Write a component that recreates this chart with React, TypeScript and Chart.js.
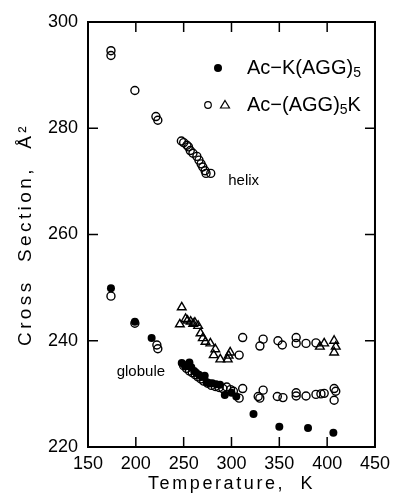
import React, { useEffect, useRef } from "react";
import { Chart, registerables } from "chart.js";

Chart.register(...registerables);

// Ac-K(AGG)5 (filled circles)
const kTemps = [174, 199, 216.5, 248, 251, 253, 256, 258, 261, 263, 266, 269, 272, 274, 277, 280, 284, 288, 293, 300, 305, 323, 350, 380, 406.5];
const kValues = [249.9, 243.6, 240.5, 235.8, 235.4, 235.2, 235.9, 235, 234.3, 234, 233.6, 233.2, 233.4, 232.2, 232, 232, 231.8, 231.7, 229.8, 230.2, 229.5, 226.2, 223.8, 223.6, 222.7];

// Ac-(AGG)5K (open circles)
const openTemps = [
  174, 174, 199, 221, 223, 247.6, 250, 253.4, 255, 256.9, 259.7, 263.8, 266, 268.2, 270, 272.4, 273.4, 278.3,
  174, 199, 222, 223,
  250, 253, 256, 259, 262, 265, 268, 271, 275, 279, 283, 287, 291, 295, 299, 302,
  311.7, 308, 311.7, 308, 329.7, 333.1, 348.6, 353.1, 367.6, 367.6, 377.9, 388.3,
  327.9, 329.6, 333.1, 347.9, 353.8, 367.6, 367.6, 377.9, 388.3, 393.5, 396.9, 407.3, 409, 407.3,
];
const openValues = [
  294.6, 293.7, 287.1, 282.2, 281.5, 277.6, 277.3, 276.8, 276.5, 275.8, 275.3, 274.7, 274, 273.3, 272.7, 272, 271.5, 271.5,
  248.4, 243.3, 239.2, 238.5,
  235.3, 234.8, 234.3, 234, 233.6, 233.2, 232.8, 232.4, 232, 231.6, 231.4, 231.2, 231, 231.3, 230.8, 230.5,
  231, 229.2, 240.6, 237.3, 239, 240.3, 240, 239.2, 240.6, 239.5, 239.5, 239.6,
  229.5, 229.2, 230.7, 229.5, 229.3, 230.2, 229.6, 229.6, 229.9, 230, 230.1, 231, 230.5, 228.8,
];

// Ac-(AGG)5K (open triangles)
const triTemps = [248, 246, 252, 254, 257.3, 260, 261.7, 265.1, 267.6, 270, 272.8, 277.9, 281.4, 283.1, 288.3, 296.1, 297, 298.6, 392.4, 396.9, 407.3, 409, 407.3];
const triValues = [246.3, 243.1, 244.1, 243.8, 243.6, 243.2, 243.4, 242.8, 241.4, 240.5, 239.8, 239.5, 237.3, 238.4, 236.5, 236.5, 237.2, 237.8, 238.9, 239.5, 240, 238.9, 237.8];

const xTicks = [150, 200, 250, 300, 350, 400, 450];
const yTicks = [220, 240, 260, 280, 300];
const xTitle = "Temperature,  K";
const yTitle = "Cross  Section,  Å²";
const legend1 = ["Ac\u2212K(AGG)", "5", ""];
const legend2 = ["Ac\u2212(AGG)", "5", "K"];
const annotations = [
  { text: "helix", x: 296.6, y: 270.1 },
  { text: "globule", x: 180, y: 234.1 },
];

const FONT = "'Liberation Sans', Arial, sans-serif";

function toPoints(xs: number[], ys: number[]) {
  return xs.map((x, i) => ({ x, y: ys[i] }));
}

const framePlugin = {
  id: "frame",
  afterDraw(chart: any) {
    const { ctx, chartArea: a, scales } = chart;
    const sx = scales.x;
    const sy = scales.y;
    ctx.save();
    ctx.strokeStyle = "#000";
    ctx.fillStyle = "#000";
    ctx.lineWidth = 2;
    ctx.strokeRect(a.left, a.top, a.right - a.left, a.bottom - a.top);
    ctx.lineWidth = 1.5;
    ctx.beginPath();
    for (const v of xTicks) {
      const px = sx.getPixelForValue(v);
      ctx.moveTo(px, a.bottom);
      ctx.lineTo(px, a.bottom - 10);
      ctx.moveTo(px, a.top);
      ctx.lineTo(px, a.top + 10);
    }
    for (const v of yTicks) {
      const py = sy.getPixelForValue(v);
      ctx.moveTo(a.left, py);
      ctx.lineTo(a.left + 10, py);
      ctx.moveTo(a.right, py);
      ctx.lineTo(a.right - 10, py);
    }
    ctx.stroke();

    // axis titles
    ctx.save();
    ctx.font = `18px ${FONT}`;
    ctx.textAlign = "center";
    ctx.textBaseline = "middle";
    (ctx as any).letterSpacing = "2.6px";
    ctx.fillText(xTitle, (a.left + a.right) / 2, 484);
    (ctx as any).letterSpacing = "3.4px";
    ctx.font = `19px ${FONT}`;
    ctx.translate(26, (a.top + a.bottom) / 2);
    ctx.rotate(-Math.PI / 2);
    ctx.fillText(yTitle, 0, 0);
    ctx.restore();

    // annotations
    ctx.font = `15px ${FONT}`;
    ctx.textAlign = "left";
    ctx.textBaseline = "middle";
    for (const an of annotations) {
      ctx.fillText(an.text, sx.getPixelForValue(an.x), sy.getPixelForValue(an.y));
    }

    // legend
    const drawLabel = (parts: string[], x: number, y: number) => {
      ctx.textAlign = "left";
      ctx.textBaseline = "middle";
      ctx.font = `20px ${FONT}`;
      ctx.fillText(parts[0], x, y);
      let w = ctx.measureText(parts[0]).width;
      ctx.font = `14px ${FONT}`;
      ctx.fillText(parts[1], x + w, y + 5);
      w += ctx.measureText(parts[1]).width;
      ctx.font = `20px ${FONT}`;
      ctx.fillText(parts[2], x + w, y);
    };
    ctx.beginPath();
    ctx.arc(218, 68, 4, 0, Math.PI * 2);
    ctx.fill();
    drawLabel(legend1, 247, 68);
    ctx.lineWidth = 1.2;
    ctx.beginPath();
    ctx.arc(208, 105, 3.3, 0, Math.PI * 2);
    ctx.stroke();
    ctx.beginPath();
    ctx.moveTo(225, 100.5);
    ctx.lineTo(229.5, 108);
    ctx.lineTo(220.5, 108);
    ctx.closePath();
    ctx.stroke();
    drawLabel(legend2, 247, 105);
    ctx.restore();
  },
};

export default function App() {
  const ref = useRef<HTMLCanvasElement | null>(null);
  useEffect(() => {
    document.body.style.margin = "0";
    if (!ref.current) return;
    const chart = new Chart(ref.current, {
      type: "scatter",
      data: {
        datasets: [
          {
            label: "Ac-K(AGG)5",
            data: toPoints(kTemps, kValues),
            pointStyle: "circle",
            pointRadius: 4,
            pointBorderWidth: 0,
            backgroundColor: "#000",
            borderColor: "#000",
          },
          {
            label: "Ac-(AGG)5K",
            data: toPoints(openTemps, openValues),
            pointStyle: "circle",
            pointRadius: 4,
            pointBorderWidth: 1.4,
            backgroundColor: "rgba(0,0,0,0)",
            borderColor: "#000",
          },
          {
            label: "Ac-(AGG)5K tri",
            data: toPoints(triTemps, triValues),
            pointStyle: "triangle",
            pointRadius: 5,
            pointBorderWidth: 1.4,
            backgroundColor: "rgba(0,0,0,0)",
            borderColor: "#000",
          },
        ],
      },
      options: {
        animation: false,
        responsive: false,
        maintainAspectRatio: false,
        layout: { padding: { top: 22, right: 18, left: 0, bottom: 0 } },
        plugins: { legend: { display: false }, tooltip: { enabled: false } },
        scales: {
          x: {
            type: "linear",
            min: 150,
            max: 450,
            afterBuildTicks: (s: any) => {
              s.ticks = xTicks.map((v) => ({ value: v }));
            },
            afterFit: (s: any) => {
              s.height = 50;
            },
            grid: { display: false, drawTicks: false },
            border: { display: false },
            ticks: { padding: 6, color: "#000", font: { family: FONT, size: 18 }, maxRotation: 0 },
          },
          y: {
            type: "linear",
            min: 220,
            max: 300,
            afterBuildTicks: (s: any) => {
              s.ticks = yTicks.map((v) => ({ value: v }));
            },
            afterFit: (s: any) => {
              s.width = 88;
            },
            grid: { display: false, drawTicks: false },
            border: { display: false },
            ticks: { padding: 10, color: "#000", font: { family: FONT, size: 18 } },
          },
        },
      },
      plugins: [framePlugin],
    });
    return () => chart.destroy();
  }, []);
  return (
    <div style={{ width: 396, height: 497 }}>
      <canvas ref={ref} width={396} height={497} style={{ display: "block" }} />
    </div>
  );
}
